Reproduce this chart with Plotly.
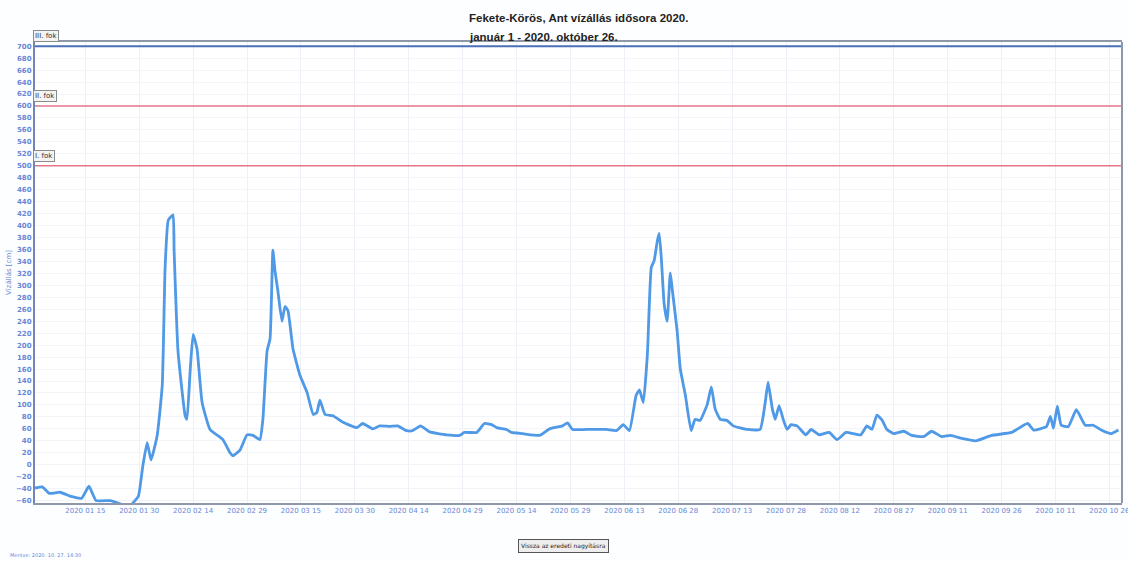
import plotly.graph_objects as go

# ---- data ----
dates = [
    "2020-01-01", "2020-01-03", "2020-01-05", "2020-01-08", "2020-01-11", "2020-01-14",
    "2020-01-16", "2020-01-18", "2020-01-22", "2020-01-26", "2020-01-27 12:00", "2020-01-29 18:00",
    "2020-01-31", "2020-02-01 05:00", "2020-02-02 07:00", "2020-02-04", "2020-02-05 10:00",
    "2020-02-06 05:00", "2020-02-07 02:00", "2020-02-08 10:00", "2020-02-08 17:00",
    "2020-02-09 19:00", "2020-02-11 19:00", "2020-02-12 07:00", "2020-02-13 05:00",
    "2020-02-14", "2020-02-15 02:00", "2020-02-16 12:00", "2020-02-18 17:00",
    "2020-02-22 07:00", "2020-02-24 07:00", "2020-02-25 02:00", "2020-02-27 02:00",
    "2020-02-29", "2020-03-01 17:00", "2020-03-03 14:00", "2020-03-04 10:00",
    "2020-03-05 14:00", "2020-03-06 10:00", "2020-03-07 05:00", "2020-03-07 19:00",
    "2020-03-08 14:00", "2020-03-09 17:00", "2020-03-10 14:00", "2020-03-11 10:00",
    "2020-03-12 19:00", "2020-03-14 17:00", "2020-03-16 17:00", "2020-03-18 10:00",
    "2020-03-19 10:00", "2020-03-20 07:00", "2020-03-21 17:00", "2020-03-23 22:00",
    "2020-03-26 17:00", "2020-03-30 14:00", "2020-04-01 05:00", "2020-04-04",
    "2020-04-05 22:00", "2020-04-08 17:00", "2020-04-10 22:00", "2020-04-13 10:00",
    "2020-04-15 02:00", "2020-04-17 07:00", "2020-04-19 19:00", "2020-04-24 14:00",
    "2020-04-28 05:00", "2020-04-29 12:00", "2020-05-02 22:00", "2020-05-05 02:00",
    "2020-05-07 02:00", "2020-05-08 12:00", "2020-05-11 05:00", "2020-05-12 14:00",
    "2020-05-15 17:00", "2020-05-20 10:00", "2020-05-23 05:00", "2020-05-26 19:00",
    "2020-05-28 05:00", "2020-05-29 14:00", "2020-06-02 12:00", "2020-06-08",
    "2020-06-10 19:00", "2020-06-12 17:00", "2020-06-14 10:00", "2020-06-16 07:00",
    "2020-06-17 05:00", "2020-06-18 07:00", "2020-06-19 10:00", "2020-06-20 12:00",
    "2020-06-21 07:00", "2020-06-22 05:00", "2020-06-22 17:00", "2020-06-23 07:00",
    "2020-06-24 02:00", "2020-06-24 22:00", "2020-06-25 19:00", "2020-06-26 07:00",
    "2020-06-27 17:00", "2020-06-28 14:00", "2020-06-30", "2020-07-01 14:00",
    "2020-07-02 17:00", "2020-07-04 02:00", "2020-07-06 02:00", "2020-07-07 05:00",
    "2020-07-08 07:00", "2020-07-09 17:00", "2020-07-11 14:00", "2020-07-13 07:00",
    "2020-07-17 05:00", "2020-07-20 19:00", "2020-07-22 05:00", "2020-07-23",
    "2020-07-24 05:00", "2020-07-25", "2020-07-26 02:00", "2020-07-27 05:00",
    "2020-07-28 07:00", "2020-07-29 10:00", "2020-07-31 02:00", "2020-08-02 12:00",
    "2020-08-04", "2020-08-06 05:00", "2020-08-09", "2020-08-11 05:00",
    "2020-08-13 17:00", "2020-08-17 19:00", "2020-08-19 12:00", "2020-08-20 22:00",
    "2020-08-22 07:00", "2020-08-23 17:00", "2020-08-25 02:00", "2020-08-27",
    "2020-08-29 19:00", "2020-09-01", "2020-09-04 07:00", "2020-09-06 12:00",
    "2020-09-09 07:00", "2020-09-11 19:00", "2020-09-14 22:00", "2020-09-18 19:00",
    "2020-09-23 05:00", "2020-09-28 19:00", "2020-10-01 14:00", "2020-10-03 07:00",
    "2020-10-04 22:00", "2020-10-08 12:00", "2020-10-09 14:00", "2020-10-10 10:00",
    "2020-10-11 12:00", "2020-10-12 14:00", "2020-10-14 14:00", "2020-10-16 19:00",
    "2020-10-19 07:00", "2020-10-21 12:00", "2020-10-23 17:00", "2020-10-26 12:00",
    "2020-10-28 12:00",
]
levels = [
    -39, -37, -48, -46, -53, -56,
    -36, -60, -60, -68, -68, -53,
    -2, 37, 8, 49, 133,
    330, 409, 418, 359,
    190, 82, 76, 160,
    218, 194, 104, 59,
    42, 20, 15, 25,
    50, 49, 42, 76,
    190, 211, 359, 324,
    291, 240, 265, 257,
    194, 150, 121, 84,
    87, 108, 84, 82,
    71, 62, 69, 60,
    65, 64, 65, 57,
    57, 65, 55, 50,
    49, 54, 54, 69,
    67, 62, 59, 54,
    52, 49, 60, 65,
    70, 59, 59, 59,
    57, 67, 57, 116,
    125, 104, 184, 330,
    341, 375, 387, 346,
    269, 240, 321, 296,
    223, 160, 116, 57,
    76, 74, 101, 130,
    93, 76, 74, 65,
    59, 59, 104, 138,
    93, 76, 99, 76,
    59, 67, 65, 50,
    59, 50, 54, 42,
    54, 50, 65, 59,
    83, 75, 59, 52,
    56, 49, 47, 56,
    47, 49, 44, 40,
    49, 54, 64, 69,
    58, 64, 81, 61,
    98, 66, 64, 92,
    66, 66, 58, 52,
    58,
]

warning_names = ["III. fok", "II. fok", "I. fok"]
warning_levels = [700, 600, 500]
warning_colors = ["#4a70b8", "#e4788a", "#e4788a"]

tick_dates = ["2020-01-15", "2020-01-30", "2020-02-14", "2020-02-29", "2020-03-15",
              "2020-03-30", "2020-04-14", "2020-04-29", "2020-05-14", "2020-05-29",
              "2020-06-13", "2020-06-28", "2020-07-13", "2020-07-28", "2020-08-12",
              "2020-08-27", "2020-09-11", "2020-09-26", "2020-10-11", "2020-10-26"]
tick_labels = [d.replace("-", " ") for d in tick_dates]

title_line1 = "Fekete-Körös, Ant vízállás idősora 2020."
title_line2 = "január 1 - 2020. október 26."

fig = go.Figure()
fig.add_trace(go.Scatter(
    x=dates, y=levels, mode="lines",
    line=dict(color="#4f99e6", width=2.8, shape="spline", smoothing=0.4),
    showlegend=False, hoverinfo="x+y",
))

for name, lvl, col in zip(warning_names, warning_levels, warning_colors):
    fig.add_shape(type="line", xref="paper", x0=0, x1=1, yref="y", y0=lvl, y1=lvl,
                  line=dict(color=col, width=2 if lvl == 700 else 1.6))
    fig.add_annotation(xref="paper", x=-0.002, xanchor="left", yref="y", y=lvl,
                       yshift=10, text=name, showarrow=False,
                       font=dict(family="DejaVu Sans", size=7, color="#333333"),
                       bgcolor="#f4f4f4", bordercolor="#8a8a8a", borderwidth=1,
                       borderpad=1)

# right frame edge
fig.add_shape(type="line", xref="paper", yref="paper", x0=1, x1=1, y0=0, y1=1,
              line=dict(color="#8f98aa", width=2))

fig.update_layout(
    width=1128, height=562,
    margin=dict(l=35, r=6, t=42, b=59),
    paper_bgcolor="#fdfeff", plot_bgcolor="#ffffff",
    xaxis=dict(
        range=["2020-01-01", "2020-10-29 12:00"], automargin=False,
        tickvals=tick_dates, ticktext=tick_labels, ticks="",
        ticklabeloverflow="allow",
        tickfont=dict(family="DejaVu Sans", size=7, color="#6a86d6"),
        showgrid=True, gridcolor="#edf1f7", gridwidth=1,
        showline=True, linecolor="#8f98aa", linewidth=2, mirror=True,
        zeroline=False,
    ),
    yaxis=dict(
        range=[-64, 707], tick0=-60, dtick=20, ticks="", automargin=False,
        tickfont=dict(family="DejaVu Sans", size=7, color="#6a86d6", weight="bold"),
        title=dict(text="Vízállás [cm]", standoff=4,
                   font=dict(family="DejaVu Sans", size=7, color="#6a86d6")),
        showgrid=True, gridcolor="#f1f4f9", gridwidth=1,
        showline=True, linecolor="#6f86b8", linewidth=2, mirror=False,
        zeroline=False,
    ),
)

# title: two left-aligned bold lines
fig.add_annotation(xref="paper", yref="paper", x=(467 - 35) / 1087, y=1 + (42 - 18) / 461,
                   xanchor="left", yanchor="middle", text="<b>" + title_line1 + "</b>",
                   showarrow=False,
                   font=dict(family="Liberation Sans", size=11.5, color="#222222"))
fig.add_annotation(xref="paper", yref="paper", x=(467 - 35) / 1087, y=1 + (42 - 37) / 461,
                   xanchor="left", yanchor="middle", text="<b>" + title_line2 + "</b>",
                   showarrow=False,
                   font=dict(family="Liberation Sans", size=11.5, color="#222222"))

fig.add_annotation(xref="paper", yref="paper", x=0.486, y=-(546 - 503) / 461,
                   xanchor="center", yanchor="middle",
                   text="Vissza az eredeti nagyításra", showarrow=False,
                   font=dict(family="DejaVu Sans", size=6, color="#222222"),
                   bgcolor="#eeeeee", bordercolor="#555555", borderwidth=1, borderpad=2)
fig.add_annotation(xref="paper", yref="paper", x=(8 - 35) / 1087, y=-(555 - 503) / 461,
                   xanchor="left", yanchor="middle",
                   text="Mentve: 2020. 10. 27. 14:30", showarrow=False,
                   font=dict(family="DejaVu Sans", size=5, color="#6a86d6"))

fig.write_html("out.html", config={"displayModeBar": False},
               post_script="document.body.style.margin='0';document.body.style.overflow='hidden';")
